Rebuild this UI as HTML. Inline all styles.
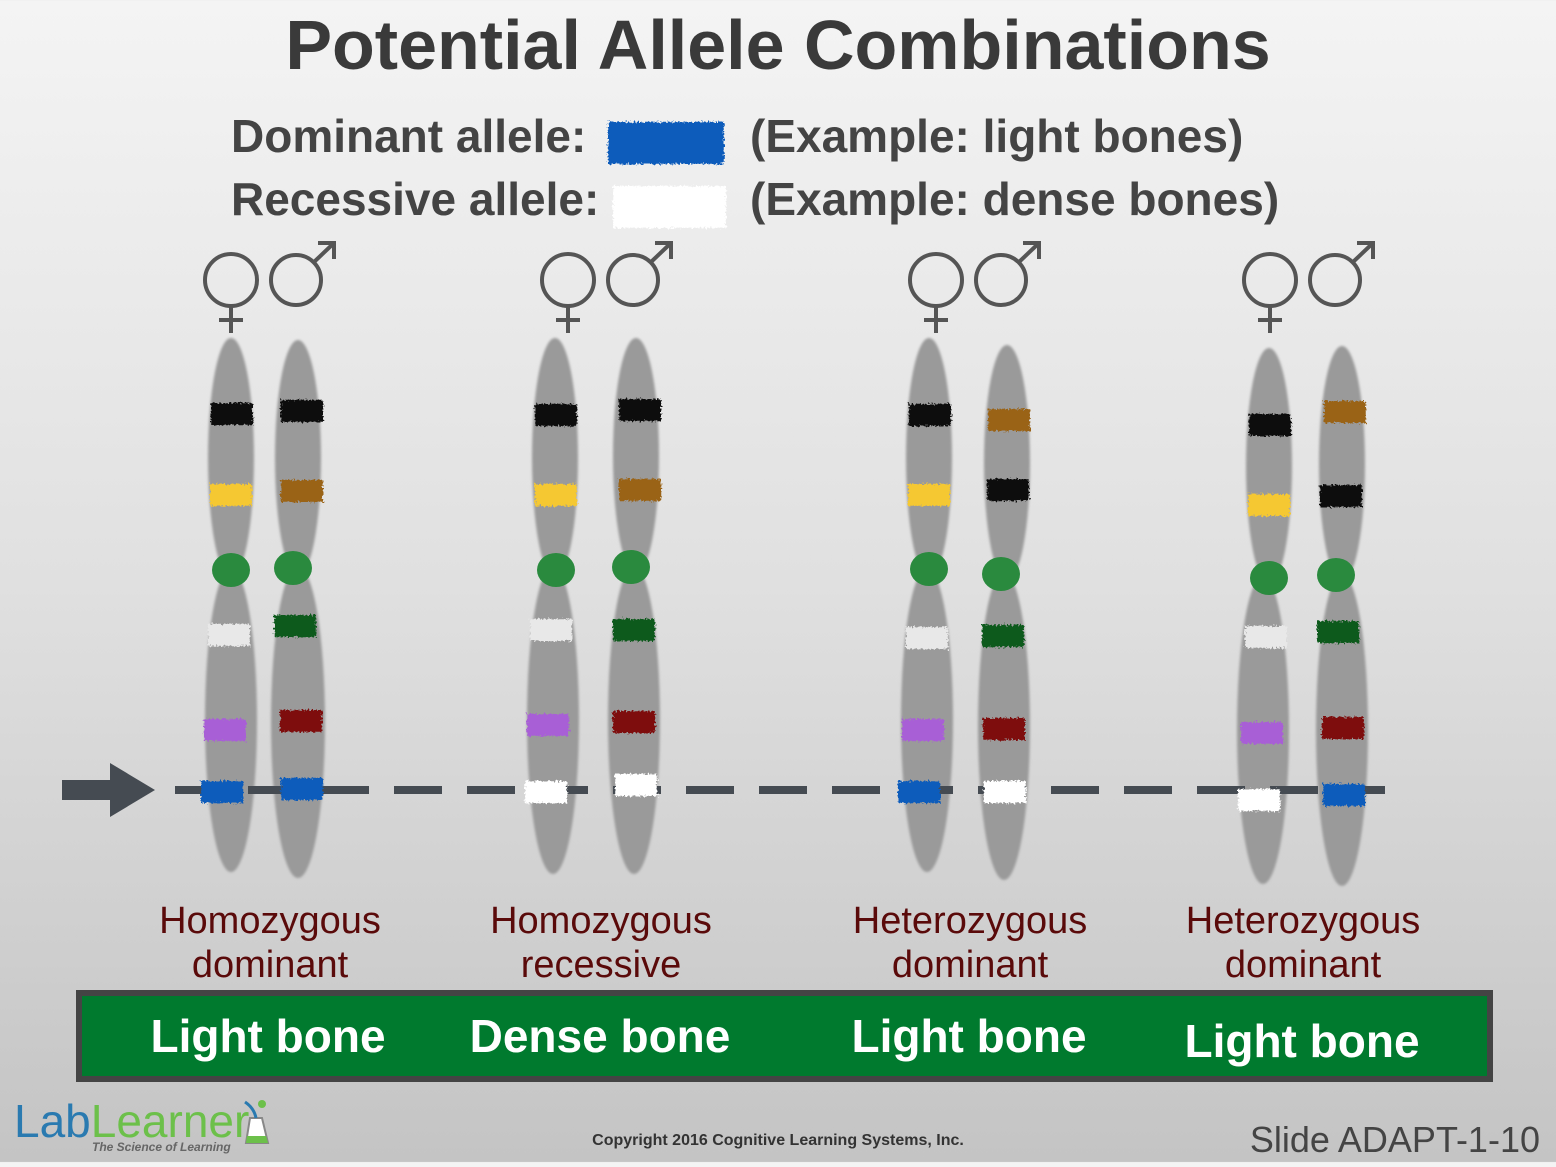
<!DOCTYPE html>
<html><head><meta charset="utf-8"><style>
html,body{margin:0;padding:0}
body{width:1556px;height:1162px;overflow:hidden;background:linear-gradient(#f4f4f4,#e0e0e0 50%,#c4c4c4);font-family:"Liberation Sans",sans-serif}
</style></head><body>
<svg width="1556" height="1162" xmlns="http://www.w3.org/2000/svg" font-family="Liberation Sans, sans-serif">
<defs>
<filter id="rough"><feTurbulence type="fractalNoise" baseFrequency="0.5" numOctaves="2" result="n"/><feDisplacementMap in="SourceGraphic" in2="n" scale="6"/></filter>
<filter id="blur"><feGaussianBlur stdDeviation="1.2"/></filter>
</defs>
<text x="778" y="69" text-anchor="middle" font-size="70" font-weight="bold" fill="#3a3a3a">Potential Allele Combinations</text>
<text x="231" y="152" font-size="46" font-weight="bold" fill="#444">Dominant allele:</text>
<text x="231" y="215" font-size="46" font-weight="bold" fill="#444">Recessive allele:</text>
<rect x="608" y="122" width="116" height="42" fill="#0a5bbb" filter="url(#rough)"/>
<rect x="613" y="186" width="113" height="42" fill="#fff" filter="url(#rough)"/>
<text x="750" y="152" font-size="46" font-weight="bold" fill="#444">(Example: light bones)</text>
<text x="750" y="215" font-size="46" font-weight="bold" fill="#444">(Example: dense bones)</text>
<g stroke="#555" stroke-width="4" fill="none">
<g id="sym"><circle cx="231" cy="280" r="26"/><line x1="231" y1="306" x2="231" y2="333"/><line x1="219" y1="320" x2="243" y2="320"/>
<circle cx="296" cy="280" r="25"/><line x1="314" y1="262" x2="334" y2="243"/><polyline points="318,243 334,243 334,259"/></g>
<use href="#sym" x="337"/><use href="#sym" x="705"/><use href="#sym" x="1039"/>
</g>
<g id="chroms" filter="url(#blur)" fill="#9a9a9a">
<ellipse cx="231" cy="458" rx="23" ry="120"/><ellipse cx="231" cy="720" rx="26" ry="152"/>
<ellipse cx="298" cy="458" rx="23" ry="118"/><ellipse cx="298" cy="722" rx="27" ry="156"/>
<ellipse cx="555" cy="458" rx="23" ry="120"/><ellipse cx="553" cy="720" rx="26" ry="154"/>
<ellipse cx="636" cy="456" rx="23" ry="118"/><ellipse cx="634" cy="720" rx="26" ry="154"/>
<ellipse cx="929" cy="458" rx="23" ry="120"/><ellipse cx="927" cy="720" rx="26" ry="152"/>
<ellipse cx="1007" cy="463" rx="23" ry="118"/><ellipse cx="1004" cy="726" rx="26" ry="154"/>
<ellipse cx="1269" cy="466" rx="23" ry="118"/><ellipse cx="1263" cy="730" rx="26" ry="154"/>
<ellipse cx="1342" cy="464" rx="23" ry="118"/><ellipse cx="1342" cy="730" rx="26" ry="156"/>
</g>
<g fill="#2a8a3e">
<ellipse cx="231" cy="570" rx="19" ry="17"/><ellipse cx="293" cy="568" rx="19" ry="17"/>
<ellipse cx="556" cy="570" rx="19" ry="17"/><ellipse cx="631" cy="567" rx="19" ry="17"/>
<ellipse cx="929" cy="569" rx="19" ry="17"/><ellipse cx="1001" cy="574" rx="19" ry="17"/>
<ellipse cx="1269" cy="578" rx="19" ry="17"/><ellipse cx="1336" cy="575" rx="19" ry="17"/>
</g>
<path d="M175 790 H1385" stroke="#454b52" stroke-width="8" stroke-dasharray="48 25"/>
<polygon points="62,780 110,780 110,763 155,790 110,817 110,800 62,800" fill="#454b52"/>
<g filter="url(#rough)">
<rect x="211" y="403" width="42" height="22" fill="#111"/><rect x="210" y="484" width="42" height="22" fill="#f5c832"/>
<rect x="208" y="624" width="42" height="22" fill="#e8e8e8"/><rect x="204" y="719" width="42" height="22" fill="#a85fd6"/>
<rect x="201" y="781" width="42" height="22" fill="#0a5bbb"/>
<rect x="281" y="400" width="42" height="22" fill="#111"/><rect x="281" y="480" width="42" height="22" fill="#9a6418"/>
<rect x="274" y="615" width="42" height="22" fill="#0c5a1c"/><rect x="280" y="710" width="42" height="22" fill="#7e0a0a"/>
<rect x="281" y="778" width="42" height="22" fill="#0a5bbb"/>
<rect x="535" y="404" width="42" height="22" fill="#111"/><rect x="535" y="484" width="42" height="22" fill="#f5c832"/>
<rect x="530" y="619" width="42" height="22" fill="#e8e8e8"/><rect x="527" y="714" width="42" height="22" fill="#a85fd6"/>
<rect x="525" y="781" width="42" height="22" fill="#fff"/>
<rect x="619" y="399" width="42" height="22" fill="#111"/><rect x="619" y="479" width="42" height="22" fill="#9a6418"/>
<rect x="613" y="619" width="42" height="22" fill="#0c5a1c"/><rect x="613" y="711" width="42" height="22" fill="#7e0a0a"/>
<rect x="615" y="774" width="42" height="22" fill="#fff"/>
<rect x="909" y="404" width="42" height="22" fill="#111"/><rect x="908" y="484" width="42" height="22" fill="#f5c832"/>
<rect x="906" y="627" width="42" height="22" fill="#e8e8e8"/><rect x="902" y="719" width="42" height="22" fill="#a85fd6"/>
<rect x="898" y="781" width="42" height="22" fill="#0a5bbb"/>
<rect x="988" y="409" width="42" height="22" fill="#9a6418"/><rect x="987" y="479" width="42" height="22" fill="#111"/>
<rect x="982" y="625" width="42" height="22" fill="#0c5a1c"/><rect x="983" y="718" width="42" height="22" fill="#7e0a0a"/>
<rect x="984" y="781" width="42" height="22" fill="#fff"/>
<rect x="1249" y="414" width="42" height="22" fill="#111"/><rect x="1248" y="494" width="42" height="22" fill="#f5c832"/>
<rect x="1245" y="626" width="42" height="22" fill="#e8e8e8"/><rect x="1241" y="722" width="42" height="22" fill="#a85fd6"/>
<rect x="1238" y="789" width="42" height="22" fill="#fff"/>
<rect x="1324" y="401" width="42" height="22" fill="#9a6418"/><rect x="1320" y="485" width="42" height="22" fill="#111"/>
<rect x="1317" y="621" width="42" height="22" fill="#0c5a1c"/><rect x="1322" y="717" width="42" height="22" fill="#7e0a0a"/>
<rect x="1323" y="784" width="42" height="22" fill="#0a5bbb"/>
</g>
<g font-size="38" fill="#5a0a0a" text-anchor="middle">
<text x="270" y="933">Homozygous</text><text x="270" y="977">dominant</text>
<text x="601" y="933">Homozygous</text><text x="601" y="977">recessive</text>
<text x="970" y="933">Heterozygous</text><text x="970" y="977">dominant</text>
<text x="1303" y="933">Heterozygous</text><text x="1303" y="977">dominant</text>
</g>
<rect x="79" y="993" width="1411" height="86" fill="#007a2e" stroke="#444" stroke-width="6"/>
<g font-size="46" font-weight="bold" fill="#fff" text-anchor="middle">
<text x="268" y="1052">Light bone</text><text x="600" y="1052">Dense bone</text>
<text x="969" y="1052">Light bone</text><text x="1302" y="1057">Light bone</text>
</g>
<text x="14" y="1137" font-size="46" fill="#2a7ab0">Lab<tspan fill="#6cc04a">Learner</tspan></text>
<text x="92" y="1151" font-size="12" font-style="italic" font-weight="bold" fill="#666">The Science of Learning</text>
<path d="M250 1118 L246 1143 H268 L262 1118 Z" fill="#fff" stroke="#888" stroke-width="2"/>
<path d="M247 1136 H266 L268 1143 H246 Z" fill="#6cc04a"/>
<path d="M245 1102 Q254 1108 256 1118" stroke="#2a7ab0" stroke-width="3" fill="none"/>
<circle cx="262" cy="1104" r="4" fill="#6cc04a"/>
<text x="778" y="1145" text-anchor="middle" font-size="16" font-weight="bold" fill="#333">Copyright 2016 Cognitive Learning Systems, Inc.</text>
<text x="1540" y="1152" text-anchor="end" font-size="36" fill="#444">Slide ADAPT-1-10</text>
</svg>
</body></html>
